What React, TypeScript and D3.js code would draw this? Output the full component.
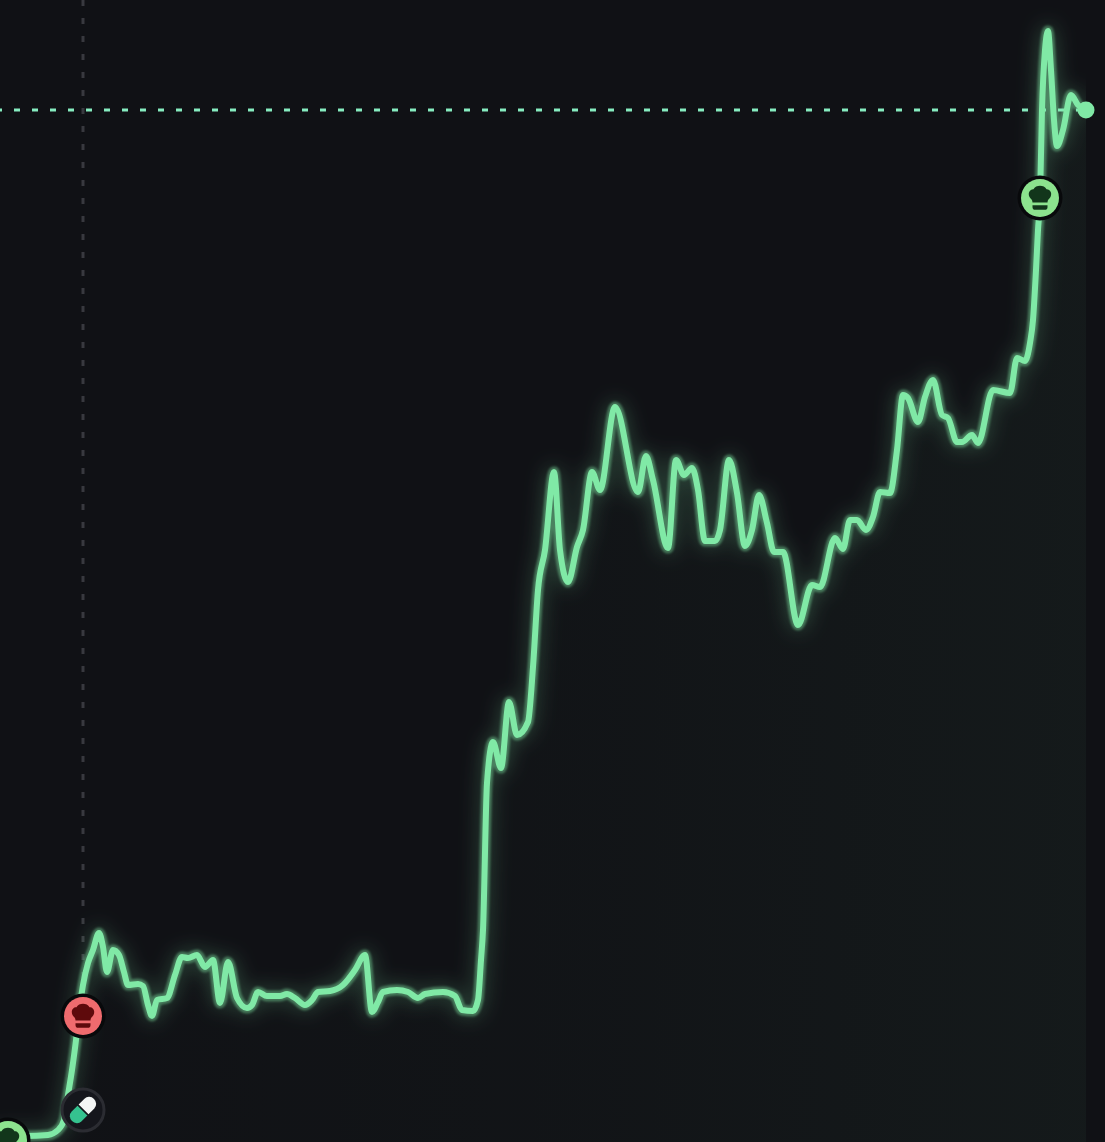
import React from "react";
import * as d3 from "d3";

const WIDTH = 1105;
const HEIGHT = 1142;

// x position along the time axis and value above the bottom edge
const times = [
  -6, 25, 48, 58, 64, 68, 72, 76, 79, 83, 88, 93, 99, 103, 107, 113, 119, 124, 128, 138, 143, 148, 152, 157, 167, 175,
  182, 188, 197, 205, 213, 220, 228, 237, 247, 252, 258, 267, 280, 287, 295, 305, 312, 318, 330, 343, 355, 365, 372,
  378, 383, 397, 408, 418, 425, 443, 455, 462, 473, 478, 481, 483, 487, 493, 501, 509, 517, 528, 533, 538, 545, 554,
  560, 568, 577, 583, 592, 600, 615, 638, 646, 653, 668, 676, 684, 692, 698, 705, 715, 720, 729, 737, 745, 752, 759,
  767, 774, 783, 798, 812, 820, 835, 843, 850, 857, 866, 873, 880, 890, 897, 903, 908, 918, 925, 933, 942, 948, 957,
  962, 972, 978, 993, 1010, 1017, 1025, 1030, 1033, 1036, 1038, 1040, 1042, 1045, 1048, 1051, 1054, 1057, 1063, 1071,
  1078, 1086,
];
const values = [
  6, 6, 7, 12, 22, 47, 72, 102, 130, 157, 179, 192, 209, 195, 170, 192, 187, 170, 157, 158, 156, 137, 126, 142, 144,
  167, 185, 184, 187, 175, 182, 139, 180, 144, 134, 137, 150, 146, 146, 148, 144, 137, 142, 150, 151, 157, 172, 187,
  130, 140, 150, 152, 150, 144, 148, 150, 146, 132, 131, 142, 182, 212, 359, 400, 374, 440, 407, 420, 475, 552, 592,
  670, 592, 560, 595, 612, 670, 652, 735, 650, 686, 662, 594, 682, 667, 674, 652, 601, 601, 612, 682, 649, 596, 612,
  647, 619, 590, 590, 517, 557, 555, 604, 593, 622, 622, 612, 625, 650, 649, 692, 747, 744, 720, 745, 762, 727, 724,
  700, 700, 707, 699, 752, 749, 784, 781, 799, 822, 872, 912, 944, 1032, 1092, 1111, 1072, 1022, 996, 1012, 1047,
  1037, 1032,
];

const priceLineValue = 1032;
const crosshairTime = 83;

const markerTimes = [8, 83, 83, 1040];
const markerValues = [2, 126, 32, 944];
const markerKinds = ["chefGreen", "chefRed", "pill", "chefGreen"];

const LINE = "#80E9A6";

const x = d3.scaleLinear().domain([0, WIDTH]).range([0, WIDTH]);
const y = d3.scaleLinear().domain([0, HEIGHT]).range([HEIGHT, 0]);

const series = times.map((t, i) => ({ t, v: values[i] }));

const lineGen = d3
  .line<{ t: number; v: number }>()
  .x((d) => x(d.t))
  .y((d) => y(d.v))
  .curve(d3.curveMonotoneX);

const areaGen = d3
  .area<{ t: number; v: number }>()
  .x((d) => x(d.t))
  .y0(HEIGHT)
  .y1((d) => y(d.v))
  .curve(d3.curveMonotoneX);

const ChefHat = ({ color }: { color: string }) => (
  <g fill={color} transform="scale(1,1.12)">
    <path d="M-7.5 4 C-7.5 1.5 -9 1 -10.5 -1 C-12.5 -4.5 -10 -8 -6.5 -7.8 C-5.5 -10.2 -2.5 -11 0 -11 C2.5 -11 5.5 -10.2 6.5 -7.8 C10 -8 12.5 -4.5 10.5 -1 C9 1 7.5 1.5 7.5 4 Z" />
    <path d="M-7.5 6.5 H7.5 V8 Q7.5 10.5 5 10.5 H-5 Q-7.5 10.5 -7.5 8 Z" />
  </g>
);

const Pill = () => (
  <g transform="rotate(-45) scale(0.82)">
    <path d="M-1 -8.5 H-11 A8 8.5 0 0 0 -11 8.5 H-1 Z" fill="#35C28F" />
    <path d="M1 -8.5 H11 A8 8.5 0 0 1 11 8.5 H1 Z" fill="#F4F6F5" />
  </g>
);

const Marker = ({ kind, t, v }: { kind: string; t: number; v: number }) => {
  const cx = x(t);
  const cy = y(v);
  if (kind === "pill") {
    return (
      <g transform={`translate(${cx},${cy})`}>
        <circle r={21} fill="#15161c" stroke="#2b2c32" strokeWidth={3} />
        <Pill />
      </g>
    );
  }
  const fill = kind === "chefRed" ? "#EF6B6E" : "#8CE38E";
  const ink = kind === "chefRed" ? "#5E0A0C" : "#12361B";
  return (
    <g transform={`translate(${cx},${cy})`}>
      <circle r={22.5} fill="#08090b" />
      <circle r={19} fill={fill} />
      <ChefHat color={ink} />
    </g>
  );
};

export default function App() {
  const path = lineGen(series) as string;
  const last = series[series.length - 1];
  return (
    <svg
      width={WIDTH}
      height={HEIGHT}
      viewBox={`0 0 ${WIDTH} ${HEIGHT}`}
      style={{ position: "absolute", left: 0, top: 0, display: "block" }}
    >
      <defs>
        <linearGradient id="areaFade" x1="0" y1="0" x2="1" y2="0">
          <stop offset="0" stopColor={LINE} stopOpacity={0.003} />
          <stop offset="0.55" stopColor={LINE} stopOpacity={0.016} />
          <stop offset="1" stopColor={LINE} stopOpacity={0.04} />
        </linearGradient>
        <filter id="softGlow" x="-10%" y="-10%" width="120%" height="120%">
          <feGaussianBlur stdDeviation="10" />
        </filter>
        <filter id="tightGlow" x="-10%" y="-10%" width="120%" height="120%">
          <feGaussianBlur stdDeviation="1.3" />
        </filter>
        <clipPath id="plotClip">
          <rect x={0} y={0} width={x(last.t)} height={HEIGHT} />
        </clipPath>
      </defs>

      <rect width={WIDTH} height={HEIGHT} fill="#101115" />
      <path d={areaGen(series) as string} fill="url(#areaFade)" clipPath="url(#plotClip)" />

      <line
        x1={x(crosshairTime)}
        x2={x(crosshairTime)}
        y1={0}
        y2={y(markerValues[1])}
        stroke="#38393f"
        strokeWidth={3}
        strokeDasharray="6 12"
      />
      <line
        x1={-4}
        x2={x(last.t)}
        y1={y(priceLineValue)}
        y2={y(priceLineValue)}
        stroke="#86ECC0"
        strokeWidth={3}
        strokeDasharray="6 12"
      />

      <path d={path} fill="none" stroke={LINE} strokeWidth={12} strokeOpacity={0.25} filter="url(#softGlow)" clipPath="url(#plotClip)" />
      <path d={path} fill="none" stroke={LINE} strokeWidth={11} strokeOpacity={0.4} filter="url(#tightGlow)" />
      <path d={path} fill="none" stroke={LINE} strokeWidth={6} strokeLinejoin="round" />

      <circle cx={x(last.t)} cy={y(last.v)} r={8.5} fill={LINE} />

      {markerKinds.map((kind, i) => (
        <Marker key={i} kind={kind} t={markerTimes[i]} v={markerValues[i]} />
      ))}
    </svg>
  );
}
